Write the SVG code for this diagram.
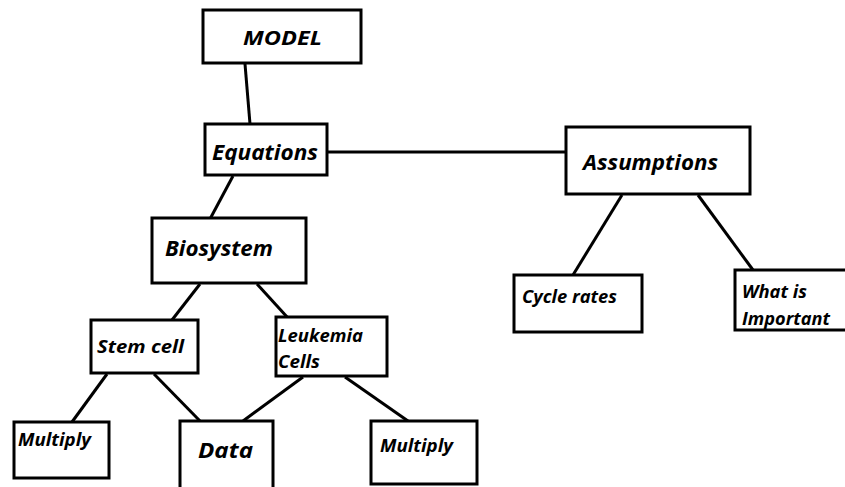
<svg xmlns="http://www.w3.org/2000/svg" width="845" height="487" viewBox="0 0 845 487">
<style>
rect{fill:#fff;stroke:#000;stroke-width:3}
line{stroke:#000;stroke-width:3}
text{font-family:"Open Sans","Liberation Sans",sans-serif;font-weight:bold;font-style:italic;fill:#000}
</style>
<rect x="0" y="0" width="845" height="487" style="stroke:none"/>
<g id="connectors">
<line x1="245" y1="64" x2="250" y2="124"/>
<line x1="327" y1="152" x2="566" y2="152"/>
<line x1="233" y1="176" x2="210" y2="219"/>
<line x1="200" y1="284" x2="172" y2="320"/>
<line x1="257" y1="284" x2="288" y2="318"/>
<line x1="622" y1="195" x2="573" y2="275"/>
<line x1="698" y1="195" x2="753" y2="270"/>
<line x1="107" y1="374" x2="72" y2="422"/>
<line x1="154" y1="374" x2="200" y2="421"/>
<line x1="303" y1="377" x2="243" y2="421"/>
<line x1="345" y1="377" x2="408" y2="421"/>
</g>
<g id="model"><rect x="203" y="10" width="158" height="53"/><text x="243" y="45" font-size="20" textLength="79" lengthAdjust="spacingAndGlyphs">MODEL</text></g>
<g id="equations"><rect x="205" y="124" width="122" height="51"/><text x="212" y="160" font-size="21" textLength="106" lengthAdjust="spacingAndGlyphs">Equations</text></g>
<g id="assumptions"><rect x="566" y="127" width="184" height="67"/><text x="583" y="170" font-size="22" textLength="135" lengthAdjust="spacingAndGlyphs">Assumptions</text></g>
<g id="biosystem"><rect x="152" y="218" width="154" height="65"/><text x="165" y="256" font-size="21" textLength="108" lengthAdjust="spacingAndGlyphs">Biosystem</text></g>
<g id="stemcell"><rect x="91" y="320" width="107" height="53"/><text x="97" y="353" font-size="18" textLength="87" lengthAdjust="spacingAndGlyphs">Stem cell</text></g>
<g id="leukemia"><rect x="276" y="317" width="111" height="59"/><text font-size="17"><tspan x="278" y="342" textLength="85" lengthAdjust="spacingAndGlyphs">Leukemia</tspan><tspan x="278" y="368" textLength="42" lengthAdjust="spacingAndGlyphs">Cells</tspan></text></g>
<g id="cyclerates"><rect x="514" y="275" width="128" height="57"/><text x="522" y="303" font-size="17" textLength="95" lengthAdjust="spacingAndGlyphs">Cycle rates</text></g>
<g id="important"><rect x="735" y="270" width="115" height="60"/><text font-size="17"><tspan x="742" y="298" textLength="65" lengthAdjust="spacingAndGlyphs">What is</tspan><tspan x="742" y="325" textLength="88" lengthAdjust="spacingAndGlyphs">Important</tspan></text></g>
<g id="multiply1"><rect x="14" y="422" width="95" height="56"/><text x="18" y="446" font-size="17" textLength="73" lengthAdjust="spacingAndGlyphs">Multiply</text></g>
<g id="data"><rect x="180" y="421" width="93" height="80"/><text x="198" y="458" font-size="22" textLength="55" lengthAdjust="spacingAndGlyphs">Data</text></g>
<g id="multiply2"><rect x="371" y="421" width="106" height="63"/><text x="380" y="452" font-size="17" textLength="73" lengthAdjust="spacingAndGlyphs">Multiply</text></g>
</svg>
